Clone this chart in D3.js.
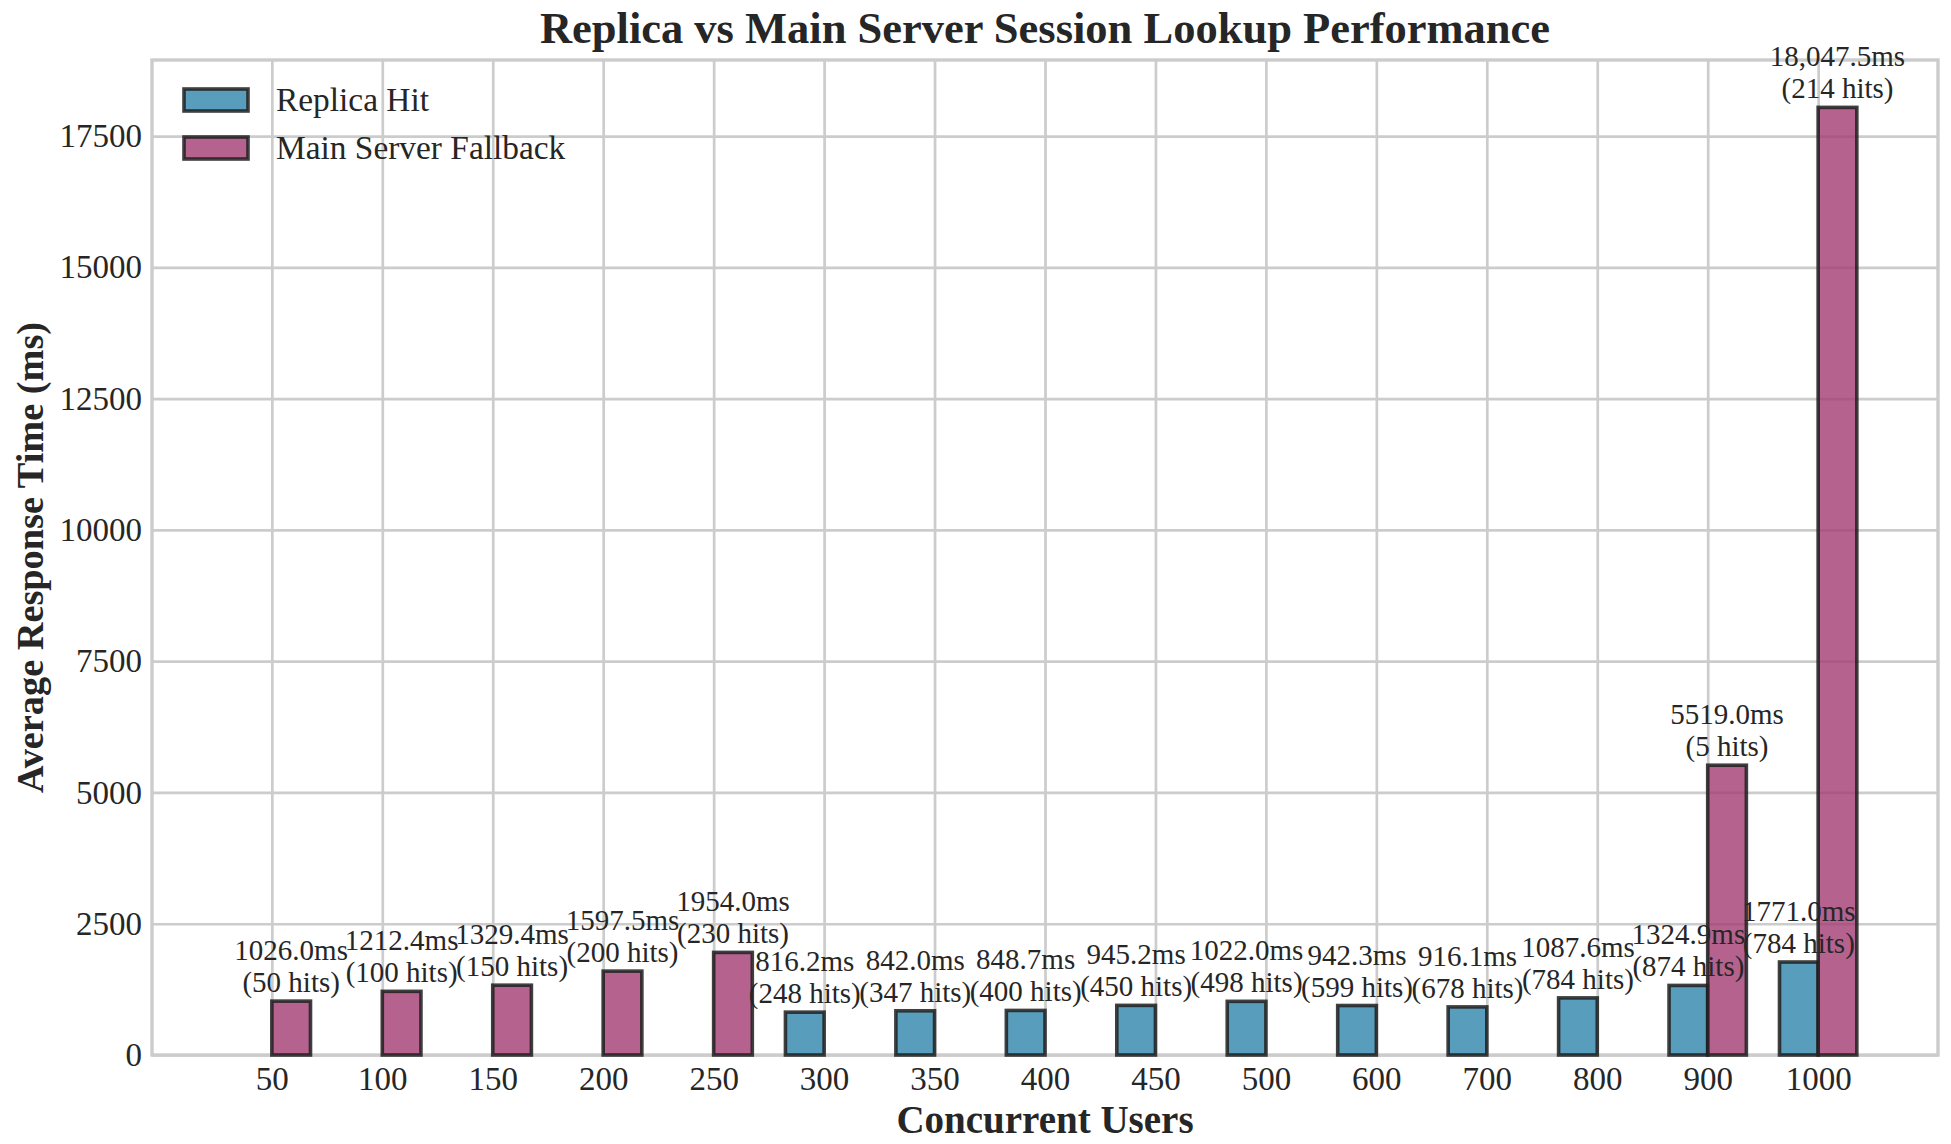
<!DOCTYPE html>
<html>
<head>
<meta charset="utf-8">
<script src="https://cdn.jsdelivr.net/npm/d3@7"></script>
<style>
  body { margin: 0; background: #fff; }
  svg text { font-family: "Liberation Serif", "Times New Roman", serif; fill: #262626; }
</style>
</head>
<body>
<svg id="chart" width="1951" height="1144"></svg>
<script>
// concurrent user buckets along the x axis
const users = ['50', '100', '150', '200', '250', '300', '350', '400', '450', '500', '600', '700', '800', '900', '1000'];
// replica hits: avg response (ms) and hit count, null where no replica hit
const replicaMs = [null, null, null, null, null, 816.2, 842.0, 848.7, 945.2, 1022.0, 942.3, 916.1, 1087.6, 1324.9, 1771.0];
const replicaHits = [null, null, null, null, null, 248, 347, 400, 450, 498, 599, 678, 784, 874, 784];
// main server fallbacks
const mainMs = [1026.0, 1212.4, 1329.4, 1597.5, 1954.0, null, null, null, null, null, null, null, null, 5519.0, 18047.5];
const mainHits = [50, 100, 150, 200, 230, null, null, null, null, null, null, null, null, 5, 214];
const yTicks = [0, 2500, 5000, 7500, 10000, 12500, 15000, 17500];

const svg = d3.select('#chart');
const plot = {left: 152, right: 1938, top: 60, bottom: 1055};
const BAR_W = 0.35;

const x = d3.scaleLinear().domain([-1.085, users.length - 1 + 1.085]).range([plot.left, plot.right]);
const y = d3.scaleLinear().domain([0, 18950]).range([plot.bottom, plot.top]);

const series = [
  {name: 'Replica Hit', ms: replicaMs, hits: replicaHits, color: '#2E86AB', off: -BAR_W / 2},
  {name: 'Main Server Fallback', ms: mainMs, hits: mainHits, color: '#A23B72', off: BAR_W / 2}
];

// grid + tick labels
const xAxis = d3.axisBottom(x)
  .tickValues(d3.range(users.length))
  .tickFormat(i => users[i])
  .tickSize(-(plot.bottom - plot.top))
  .tickPadding(12);
const gx = svg.append('g').attr('transform', `translate(0,${plot.bottom})`).call(xAxis);
const yAxis = d3.axisLeft(y)
  .tickValues(yTicks)
  .tickFormat(d3.format('d'))
  .tickSize(-(plot.right - plot.left))
  .tickPadding(10);
const gy = svg.append('g').attr('transform', `translate(${plot.left},0)`).call(yAxis);
[gx, gy].forEach(g => {
  g.attr('font-family', null).attr('font-size', null);
  g.select('.domain').remove();
  g.selectAll('.tick line').attr('stroke', '#cccccc').attr('stroke-width', 2.7);
  g.selectAll('.tick text').attr('font-size', 33).attr('fill', '#262626');
});
gx.selectAll('.tick text').attr('dy', '0.71em');

// frame
svg.append('rect')
  .attr('x', plot.left).attr('y', plot.top)
  .attr('width', plot.right - plot.left).attr('height', plot.bottom - plot.top)
  .attr('fill', 'none').attr('stroke', '#cccccc').attr('stroke-width', 3.4);

// bars
series.forEach(s => {
  const idx = d3.range(users.length).filter(i => s.ms[i] != null);
  svg.append('g').selectAll('rect').data(idx).join('rect')
    .attr('x', i => x(i + s.off - BAR_W / 2))
    .attr('y', i => y(s.ms[i]))
    .attr('width', x(BAR_W) - x(0))
    .attr('height', i => y(0) - y(s.ms[i]))
    .attr('fill', s.color)
    .attr('fill-opacity', 0.8)
    .attr('stroke', '#1f1f1f')
    .attr('stroke-opacity', 0.85)
    .attr('stroke-width', 3.6);
});

// value labels above the bars
const fmtMs = v => (v >= 10000 ? d3.format(',.1f')(v) : d3.format('.1f')(v)) + 'ms';
series.forEach(s => {
  const idx = d3.range(users.length).filter(i => s.ms[i] != null);
  const lab = svg.append('g').selectAll('text').data(idx).join('text')
    .attr('text-anchor', 'middle')
    .attr('font-size', 29)
    .attr('transform', i => `translate(${x(i + s.off)},${y(s.ms[i]) - 9})`);
  lab.append('tspan').attr('x', 0).attr('y', -32).text(i => fmtMs(s.ms[i]));
  lab.append('tspan').attr('x', 0).attr('y', 0).text(i => `(${s.hits[i]} hits)`);
});

// legend
const leg = svg.append('g').attr('transform', 'translate(184,89)');
series.forEach((s, k) => {
  const row = leg.append('g').attr('transform', `translate(0,${k * 48})`);
  row.append('rect').attr('width', 64).attr('height', 22)
    .attr('fill', s.color).attr('fill-opacity', 0.8)
    .attr('stroke', '#1f1f1f').attr('stroke-opacity', 0.85).attr('stroke-width', 3.6);
  row.append('text').attr('x', 92).attr('y', 22).attr('font-size', 33.4).text(s.name);
});

// titles
svg.append('text')
  .attr('x', (plot.left + plot.right) / 2).attr('y', 43)
  .attr('text-anchor', 'middle').attr('font-size', 44.5).attr('font-weight', 'bold')
  .text('Replica vs Main Server Session Lookup Performance');
svg.append('text')
  .attr('x', (plot.left + plot.right) / 2).attr('y', 1133)
  .attr('text-anchor', 'middle').attr('font-size', 39).attr('font-weight', 'bold')
  .text('Concurrent Users');
svg.append('text')
  .attr('transform', `translate(43,${(plot.top + plot.bottom) / 2}) rotate(-90)`)
  .attr('text-anchor', 'middle').attr('font-size', 38.3).attr('font-weight', 'bold')
  .text('Average Response Time (ms)');
</script>
</body>
</html>
